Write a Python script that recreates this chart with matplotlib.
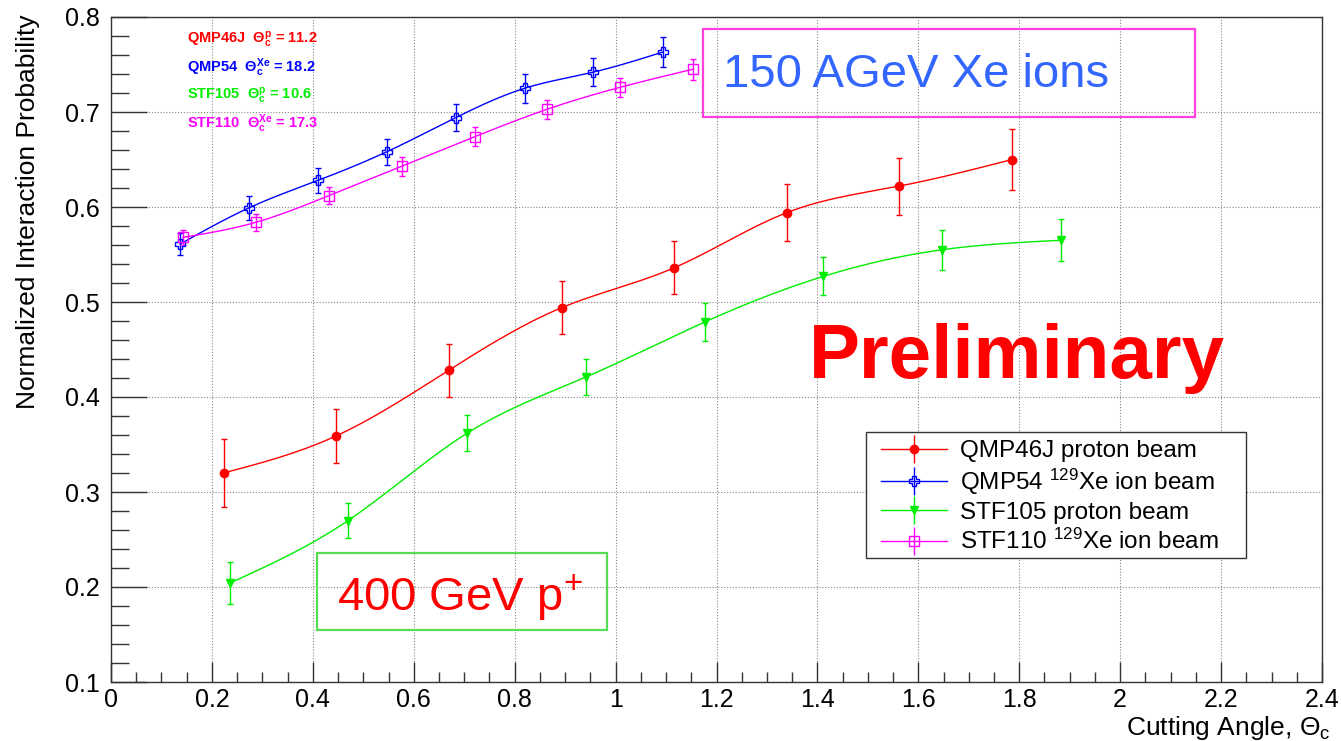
import numpy as np
import matplotlib
matplotlib.use("Agg")
import matplotlib.pyplot as plt
from matplotlib.lines import Line2D
from matplotlib.legend_handler import HandlerTuple
from matplotlib.patches import Rectangle
from matplotlib.ticker import MultipleLocator

plt.rcParams['font.family'] = ['Liberation Sans', 'DejaVu Sans']
plt.rcParams['mathtext.fontset'] = 'custom'
plt.rcParams['mathtext.rm'] = 'Liberation Sans'
plt.rcParams['mathtext.it'] = 'Liberation Sans'
plt.rcParams['mathtext.bf'] = 'Liberation Sans:bold'

# ---------------- data ----------------
qmp46j_x = [0.223, 0.446, 0.669, 0.893, 1.116, 1.339, 1.562, 1.786]
qmp46j_y = [0.320, 0.359, 0.428, 0.494, 0.536, 0.594, 0.622, 0.650]
qmp46j_e = [0.036, 0.028, 0.028, 0.028, 0.028, 0.030, 0.030, 0.032]

qmp54_x = [0.137, 0.273, 0.410, 0.546, 0.683, 0.820, 0.956, 1.093]
qmp54_y = [0.561, 0.599, 0.628, 0.658, 0.694, 0.725, 0.742, 0.763]
qmp54_e = [0.012, 0.013, 0.013, 0.014, 0.014, 0.015, 0.015, 0.016]

stf105_x = [0.235, 0.470, 0.706, 0.941, 1.177, 1.412, 1.647, 1.883]
stf105_y = [0.204, 0.270, 0.362, 0.421, 0.479, 0.527, 0.555, 0.565]
stf105_e = [0.022, 0.018, 0.019, 0.019, 0.020, 0.020, 0.021, 0.022]

stf110_x = [0.143, 0.288, 0.432, 0.577, 0.721, 0.865, 1.009, 1.153]
stf110_y = [0.568, 0.584, 0.612, 0.643, 0.674, 0.703, 0.726, 0.745]
stf110_e = [0.008, 0.009, 0.009, 0.010, 0.010, 0.010, 0.010, 0.011]

series_labels = ["QMP46J proton beam", r"QMP54 $^{129}$Xe ion beam",
                 "STF105 proton beam", r"STF110 $^{129}$Xe ion beam"]
angle_notes = [r"QMP46J  $\mathbf{\Theta_c^{p}}$ = 11.2",
               r"QMP54  $\mathbf{\Theta_c^{Xe}}$ = 18.2",
               r"STF105  $\mathbf{\Theta_c^{p}}$ = 10.6",
               r"STF110  $\mathbf{\Theta_c^{Xe}}$ = 17.3"]
xticks = [0, 0.2, 0.4, 0.6, 0.8, 1.0, 1.2, 1.4, 1.6, 1.8, 2.0, 2.2, 2.4]
xticklabels = ["0", "0.2", "0.4", "0.6", "0.8", "1", "1.2", "1.4", "1.6", "1.8", "2", "2.2", "2.4"]
yticks = [0.1, 0.2, 0.3, 0.4, 0.5, 0.6, 0.7, 0.8]
yticklabels = ["0.1", "0.2", "0.3", "0.4", "0.5", "0.6", "0.7", "0.8"]


def smooth_curve(x, y, n=40):
    """Natural cubic spline through the given points (for drawing the connecting curve)."""
    x = np.asarray(x, float); y = np.asarray(y, float)
    m = len(x); h = np.diff(x)
    A = np.zeros((m, m)); r = np.zeros(m)
    A[0, 0] = A[-1, -1] = 1
    for i in range(1, m - 1):
        A[i, i - 1] = h[i - 1]; A[i, i] = 2 * (h[i - 1] + h[i]); A[i, i + 1] = h[i]
        r[i] = 6 * ((y[i + 1] - y[i]) / h[i] - (y[i] - y[i - 1]) / h[i - 1])
    M = np.linalg.solve(A, r)
    xs, ys = [], []
    for i in range(m - 1):
        t = np.linspace(x[i], x[i + 1], n)
        a = x[i + 1] - t; b = t - x[i]
        s = (M[i] * a**3 + M[i + 1] * b**3) / (6 * h[i]) \
            + (y[i] / h[i] - M[i] * h[i] / 6) * a + (y[i + 1] / h[i] - M[i + 1] * h[i] / 6) * b
        xs.append(t); ys.append(s)
    return np.concatenate(xs), np.concatenate(ys)


W, H = 1341, 741
fig = plt.figure(figsize=(W / 100, H / 100), dpi=100)
ax = fig.add_axes([111 / W, 1 - 682 / H, (1322 - 111) / W, (682 - 17) / H])

series = [
    (qmp46j_x, qmp46j_y, qmp46j_e, '#ff0000', 'o', 'full', 6),
    (qmp54_x, qmp54_y, qmp54_e, '#0000ff', 'P', 'none', 7),
    (stf105_x, stf105_y, stf105_e, '#00ee00', 'v', 'full', 6),
    (stf110_x, stf110_y, stf110_e, '#ff00ff', 's', 'none', 7),
]

handles = []
for (x, y, e, c, mk, fill, ms) in series:
    sx, sy = smooth_curve(x, y)
    ax.plot(sx, sy, color=c, lw=1.0, zorder=3)
    ax.errorbar(x, y, yerr=e, fmt='none', ecolor=c, elinewidth=1.0,
                capsize=2.5, capthick=1.0, zorder=4)
    fc = c if fill == 'full' else 'none'
    ax.plot(x, y, ls='none', marker=mk, ms=ms, mfc=fc, mec=c, mew=1.0, zorder=5)
    h1 = Line2D([], [], color=c, lw=1.0, marker=mk, ms=ms, mfc=fc, mec=c)
    h2 = Line2D([], [], color=c, ls='none', marker='|', ms=20, mew=1.0)
    handles.append((h1, h2))

ax.set_xlim(0, 2.4)
ax.set_ylim(0.1, 0.8)
ax.set_xticks(xticks)
ax.set_xticklabels(xticklabels)
ax.set_yticks(yticks)
ax.set_yticklabels(yticklabels)
ax.xaxis.set_minor_locator(MultipleLocator(0.05))
ax.yaxis.set_minor_locator(MultipleLocator(0.02))
ax.tick_params(axis='x', which='major', direction='in', length=14.4, width=1, labelsize=18, pad=4,
               top=False, color='#333333')
ax.tick_params(axis='x', which='minor', direction='in', length=7.2, width=1, top=False, color='#333333')
ax.tick_params(axis='y', which='major', direction='in', length=26, width=1, labelsize=18, pad=8,
               right=False, color='#333333')
ax.tick_params(axis='y', which='minor', direction='in', length=13, width=1, right=False, color='#333333')
for sp in ax.spines.values():
    sp.set_color('#333333'); sp.set_linewidth(1.0)
ax.grid(True, which='major', color='#888888', ls=(0, (1, 1.6)), lw=0.8)
ax.set_axisbelow(True)

# axis titles (ROOT style: at the ends of the axes)
fig.text(28 / W, 1 - 14 / H, "Normalized Interaction Probability", rotation=90,
         ha='center', va='top', fontsize=19)
fig.text(1331 / W, 1 - 735 / H, r"Cutting Angle, $\Theta_c$", ha='right', va='baseline', fontsize=19)

# legend (frame drawn separately)
fig.patches.append(Rectangle((866 / W, 1 - 558 / H), (1246 - 866) / W, (558 - 432) / H,
                             transform=fig.transFigure, fc='white', ec='#333333', lw=1.0, zorder=9))
leg = fig.legend(handles, series_labels, handler_map={tuple: HandlerTuple(ndivide=1, pad=0)},
                 loc='upper left', bbox_to_anchor=(881 / W, 1 - 440 / H), fontsize=17.5,
                 frameon=False, handlelength=2.7, handletextpad=0.55, labelspacing=0.2,
                 borderpad=0, borderaxespad=0)
leg.set_zorder(10)

# angle annotations
note_colors = ['#ff0000', '#0000ff', '#00ee00', '#ff00ff']
for i, (t, c) in enumerate(zip(angle_notes, note_colors)):
    fig.text(187 / W, 1 - (40 + 28 * i) / H, t, color=c, fontsize=10.5, fontweight='bold',
             ha='left', va='center')

# boxed labels
fig.patches.append(Rectangle((703 / W, 1 - 117 / H), (1195 - 703) / W, (117 - 29) / H,
                             transform=fig.transFigure, fill=False, ec='#ff40dd', lw=1.6, zorder=6))
fig.text(723 / W, 1 - 87 / H, "150 AGeV Xe ions", color='#3366ff', fontsize=34,
         ha='left', va='baseline')
fig.patches.append(Rectangle((317 / W, 1 - 630 / H), (607 - 317) / W, (630 - 553) / H,
                             transform=fig.transFigure, fill=False, ec='#55dd55', lw=1.6, zorder=6))
fig.text(337 / W, 1 - 611 / H, r"400 GeV p$^{+}$", color='#ff0000', fontsize=34,
         ha='left', va='baseline')

fig.text(1017 / W, 1 - 378 / H, "Preliminary", color='#ff0000', fontsize=55, fontweight='bold',
         ha='center', va='baseline')

fig.savefig("out.png", dpi=100)
